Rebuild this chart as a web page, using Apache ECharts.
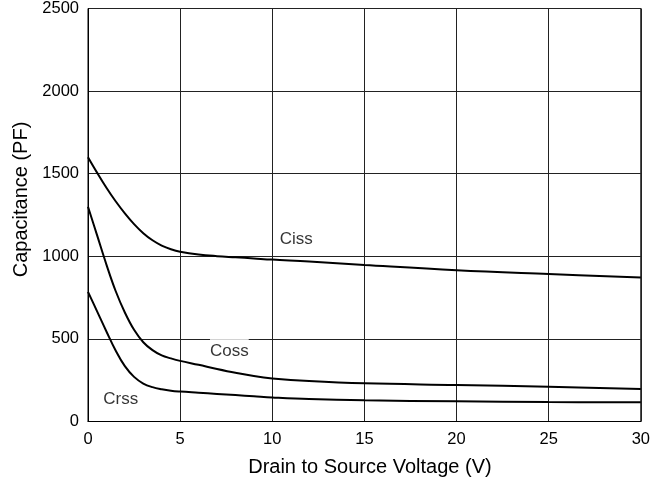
<!DOCTYPE html>
<html>
<head>
<meta charset="utf-8">
<script src="https://cdn.jsdelivr.net/npm/echarts@6/dist/echarts.min.js"></script>
<style>
  html, body { margin: 0; padding: 0; background: #fff; }
  #chart { width: 653px; height: 484px; }
</style>
</head>
<body>
<div id="chart"></div>
<script>
// Drain-to-source voltage samples (V)
const voltage = [0, 0.5, 1, 1.5, 2, 2.5, 3, 3.5, 4, 4.5, 5, 6, 7, 8, 9, 10, 12, 15, 20, 25, 30];

// Capacitances in pF
const ciss = [1600, 1505, 1415, 1333, 1260, 1195, 1140, 1097, 1065, 1043, 1028, 1011, 1001, 994, 987, 980, 969, 948, 916, 893, 872];
const coss = [1300, 1125, 950, 790, 660, 555, 480, 432, 400, 382, 367, 343, 318, 295, 275, 261, 245, 231, 221, 210, 197];
const crss = [785, 665, 545, 430, 335, 270, 230, 208, 195, 186, 181, 174, 167, 160, 153, 146, 136, 128, 122, 118, 116];

// Curve name tags, anchored in data space (V, pF)
const tagNames = ['Ciss', 'Coss', 'Crss'];
const tagV = [10.4, 6.62, 0.83];
const tagC = [1103, 426, 136];

const xTicks = [0, 5, 10, 15, 20, 25, 30];
const yTicks = [0, 500, 1000, 1500, 2000, 2500];

const FONT = 'Liberation Sans, Arial, Helvetica, sans-serif';

function pairs(ys) {
  return voltage.map((v, i) => [v, ys[i]]);
}

function curve(name, ys) {
  return {
    name: name,
    type: 'line',
    data: pairs(ys),
    smooth: 0.4,
    symbol: 'none',
    lineStyle: { color: '#000', width: 2 },
    silent: true,
    z: 3
  };
}

// The Coss tag sits on a grid line, so it gets a white box
function tagLabel(name) {
  if (name === 'Coss') {
    return { padding: [12, 0, 0, 0], backgroundColor: '#fff' };
  }
  return { padding: [4, 0, 0, 0] };
}

const chart = echarts.init(document.getElementById('chart'), null, { renderer: 'canvas' });

chart.setOption({
  animation: false,
  backgroundColor: '#fff',
  grid: { left: 88, right: 10, top: 8, bottom: 62.5, containLabel: false,
          show: true, borderColor: '#000', borderWidth: 1 },
  xAxis: {
    type: 'value',
    min: xTicks[0],
    max: xTicks[xTicks.length - 1],
    interval: 5,
    name: 'Drain to Source Voltage (V)',
    nameLocation: 'middle',
    nameGap: 35.5,
    nameTextStyle: { fontFamily: FONT, fontSize: 20, color: '#000', padding: [0, 0, 0, 11] },
    axisLine: { show: true, lineStyle: { color: '#000', width: 1 } },
    axisTick: { show: false },
    axisLabel: { margin: 9, fontFamily: FONT, fontSize: 16.5, color: '#000',
                 formatter: v => String(v) },
    splitLine: { show: true, lineStyle: { color: '#222', width: 1 } }
  },
  yAxis: {
    type: 'value',
    min: yTicks[0],
    max: yTicks[yTicks.length - 1],
    interval: 500,
    name: 'Capacitance (PF)',
    nameLocation: 'middle',
    nameGap: 57,
    nameRotate: 90,
    nameTextStyle: { fontFamily: FONT, fontSize: 20, color: '#000', padding: [0, 0, 0, 31] },
    axisLine: { show: true, lineStyle: { color: '#000', width: 1 } },
    axisTick: { show: false },
    axisLabel: { margin: 9, fontFamily: FONT, fontSize: 16.5, color: '#000',
                 formatter: v => String(v) },
    splitLine: { show: true, lineStyle: { color: '#222', width: 1 } }
  },
  series: [
    curve('Ciss', ciss),
    curve('Coss', coss),
    curve('Crss', crss),
    {
      name: 'tags',
      type: 'scatter',
      symbolSize: 0,
      silent: true,
      z: 4,
      data: tagNames.map((n, i) => ({ name: n, value: [tagV[i], tagC[i]], label: tagLabel(n) })),
      label: {
        show: true,
        position: 'right',
        distance: 0,
        formatter: p => p.name,
        fontFamily: FONT,
        fontSize: 17,
        color: '#000'
      }
    }
  ]
});
</script>
</body>
</html>
